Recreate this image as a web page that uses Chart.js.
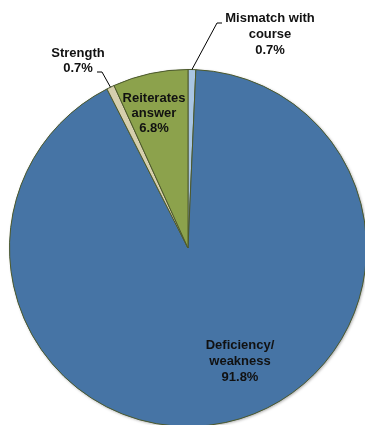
<!DOCTYPE html>
<html>
<head>
<meta charset="utf-8">
<script src="https://cdn.jsdelivr.net/npm/chart.js@4.4.1/dist/chart.umd.min.js"></script>
<style>
  html, body { margin: 0; padding: 0; width: 365px; height: 425px; overflow: hidden; background: #fff; }
  #wrap { position: absolute; left: 0; top: 0; }
</style>
</head>
<body>
<div id="wrap"><canvas id="myChart" width="400" height="460"></canvas></div>
<script>
// Dados
const categories = ['Mismatch with course', 'Deficiency/ weakness', 'Strength', 'Reiterates answer'];
const values = [0.7, 91.8, 0.7, 6.8];
const labelLines = [
  ['Mismatch with', 'course', '0.7%'],
  ['Deficiency/', 'weakness', '91.8%'],
  ['Strength', '0.7%'],
  ['Reiterates', 'answer', '6.8%']
];
const colors = ['#A9C5E2', '#4674A5', '#D6CFAE', '#8CA24C'];

// label placement (offsets from pie centre, px) and leader elbows
const labelPos = [
  { dx: 82, dy: -230, lh: 16, leader: { elbow: [29, -225], end: [34, -225] } },
  { dx: 52, dy: 97, lh: 16 },
  { dx: -110, dy: -195, lh: 15, leader: { elbow: [-86, -176], end: [-91, -176] } },
  { dx: -34, dy: -150, lh: 15 }
];

const labelPlugin = {
  id: 'pieLabels',
  beforeDatasetsDraw(chart) {
    const c = chart.ctx;
    c.save();
    c.shadowColor = 'rgba(0,0,0,0.35)';
    c.shadowBlur = 3;
    c.shadowOffsetX = 1;
    c.shadowOffsetY = 1;
    const meta = chart.getDatasetMeta(0);
    const a = meta.data[0];
    c.beginPath();
    c.arc(a.x, a.y, a.outerRadius, 0, Math.PI * 2);
    c.fillStyle = '#4674A5';
    c.fill();
    c.restore();
  },
  afterDatasetsDraw(chart) {
    const c = chart.ctx;
    const meta = chart.getDatasetMeta(0);
    c.save();
    c.font = 'bold 13px "Liberation Sans", Arial, sans-serif';
    c.fillStyle = '#111';
    c.textAlign = 'center';
    c.textBaseline = 'middle';
    meta.data.forEach((arc, i) => {
      const p = labelPos[i];
      const cx = arc.x, cy = arc.y;
      labelLines[i].forEach((t, k) => {
        c.fillText(t, cx + p.dx, cy + p.dy + k * p.lh);
      });
      if (p.leader) {
        const mid = (arc.startAngle + arc.endAngle) / 2;
        const ex = cx + Math.cos(mid) * arc.outerRadius;
        const ey = cy + Math.sin(mid) * arc.outerRadius;
        c.beginPath();
        c.moveTo(ex, ey);
        c.lineTo(cx + p.leader.elbow[0], cy + p.leader.elbow[1]);
        c.lineTo(cx + p.leader.end[0], cy + p.leader.end[1]);
        c.strokeStyle = '#000';
        c.lineWidth = 1;
        c.stroke();
      }
    });
    c.restore();
  }
};

const ctx = document.getElementById('myChart').getContext('2d');
new Chart(ctx, {
  type: 'pie',
  data: {
    labels: categories,
    datasets: [{
      data: values,
      backgroundColor: colors,
      borderColor: '#4E5A2C',
      borderWidth: 1
    }]
  },
  options: {
    responsive: false,
    animation: false,
    layout: { padding: { left: 9, top: 69, right: 33, bottom: 33 } },
    plugins: {
      legend: { display: false },
      tooltip: { enabled: false }
    }
  },
  plugins: [labelPlugin]
});
</script>
</body>
</html>
